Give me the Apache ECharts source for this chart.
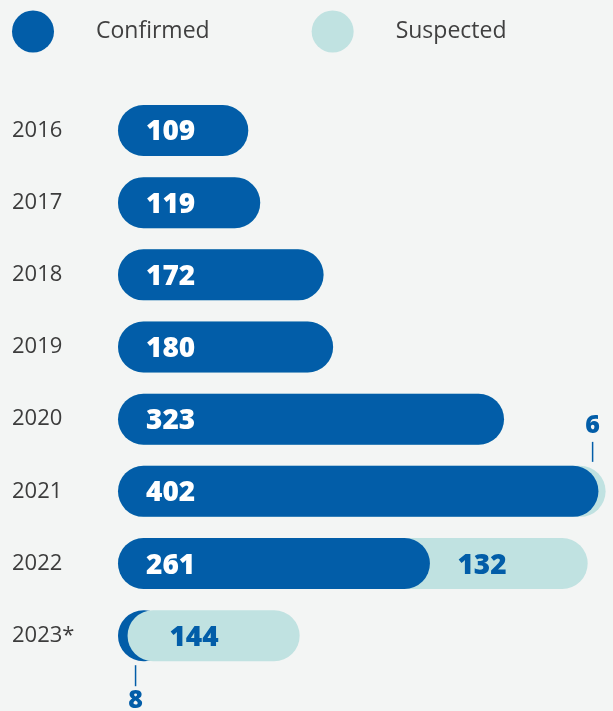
<!DOCTYPE html>
<html>
<head>
<meta charset="utf-8">
<script src="https://cdn.jsdelivr.net/npm/echarts@6/dist/echarts.min.js"></script>
<style>
html,body{margin:0;padding:0;background:#f3f5f4;}
#c{width:613px;height:711px;}
</style>
</head>
<body>
<div id="c"></div>
<script>
var years = ['2016', '2017', '2018', '2019', '2020', '2021', '2022', '2023*'];
var confirmed = [109, 119, 172, 180, 323, 402, 261, 8];
var suspected = [0, 0, 0, 0, 0, 6, 132, 144];
// years where the suspected pill is drawn on top of the confirmed one
var suspectedOnTop = ['2023*'];

var DARK = '#025da8', LIGHT = '#c0e2e1', TXT = '#3c3c3c';
var SMALL = 20; // values below this get a callout instead of an inside label
var R = 25.5;

var backTeal = [], darkData = [], baseData = [], frontTeal = [], callouts = [];
years.forEach(function (y, i) {
  var total = confirmed[i] + suspected[i];
  var onTop = suspectedOnTop.indexOf(y) >= 0;
  var sLabel = {
    show: suspected[i] >= SMALL,
    position: 'insideRight', distance: 81, offset: [0, 2],
    formatter: String(suspected[i]),
    color: DARK, fontFamily: 'Open Sans', fontWeight: 800, fontSize: 28
  };
  if (onTop) {
    backTeal.push('-');
    baseData.push(confirmed[i]);
    frontTeal.push({ value: suspected[i], label: sLabel });
  } else {
    backTeal.push({ value: total, label: sLabel });
    baseData.push('-');
    frontTeal.push('-');
  }
  darkData.push({ value: confirmed[i], label: { show: confirmed[i] >= SMALL } });
  if (suspected[i] > 0 && suspected[i] < SMALL) {
    callouts.push([total, i, String(suspected[i]), 'top']);
  }
  if (confirmed[i] < SMALL) {
    callouts.push([confirmed[i], i, String(confirmed[i]), 'bottom']);
  }
});

var chart = echarts.init(document.getElementById('c'));
chart.setOption({
  backgroundColor: '#f3f5f4',
  animation: false,
  legend: {
    data: ['Confirmed', 'Suspected'],
    left: 12, top: 10.5, padding: 0,
    icon: 'circle', itemWidth: 42, itemHeight: 42, itemGap: 102,
    textStyle: { fontFamily: 'Open Sans', fontSize: 23, color: '#404040', padding: [2, 0, 0, 37] }
  },
  grid: { left: 118, right: 5, top: 94.4, bottom: 39.2, containLabel: false },
  xAxis: { type: 'value', min: 0, max: 410, show: false },
  yAxis: {
    type: 'category', data: years, inverse: true,
    axisLine: { show: false }, axisTick: { show: false }, splitLine: { show: false },
    axisLabel: { align: 'left', margin: 106, fontFamily: 'Open Sans', fontSize: 22, color: TXT, padding: [2, 0, 0, 0] }
  },
  series: [
    {
      name: 'Suspected', type: 'bar', data: backTeal, barWidth: 51, barGap: '-100%', z: 2,
      itemStyle: { color: LIGHT, borderRadius: R }, clip: false
    },
    {
      name: 'Confirmed', type: 'bar', data: darkData, barWidth: 51, barGap: '-100%', z: 3,
      barMinHeight: 52,
      itemStyle: { color: DARK, borderRadius: R }, clip: false,
      label: { position: 'insideLeft', distance: 28, offset: [0, 2], color: '#fff', fontFamily: 'Open Sans', fontWeight: 800, fontSize: 28 }
    },
    {
      name: 'base', type: 'bar', stack: 'front', data: baseData, barWidth: 51, barGap: '-100%', z: 4,
      itemStyle: { color: 'rgba(0,0,0,0)' }, silent: true
    },
    {
      name: 'Suspected', type: 'bar', stack: 'front', data: frontTeal, barWidth: 51, barGap: '-100%', z: 5,
      itemStyle: { color: LIGHT, borderRadius: R }, clip: false
    },
    {
      type: 'custom', z: 6, silent: true,
      data: callouts,
      encode: { x: 0, y: 1 },
      renderItem: function (params, api) {
        var p = api.coord([api.value(0), api.value(1)]);
        var side = callouts[params.dataIndex][3];
        var txt = callouts[params.dataIndex][2];
        var x, y0, y1, ty;
        if (side === 'top') {
          x = p[0] - 13;
          var top = p[1] - R;
          y0 = top - 4; y1 = top - 24; ty = top - 40;
        } else {
          x = p[0] + 8;
          var bot = p[1] + R;
          y0 = bot + 4; y1 = bot + 25; ty = bot + 40;
        }
        return {
          type: 'group',
          children: [
            { type: 'line', shape: { x1: x, y1: y0, x2: x, y2: y1 }, style: { stroke: DARK, lineWidth: 1.5 } },
            { type: 'text', style: { x: x, y: ty, text: txt, align: 'center', verticalAlign: 'middle',
              fill: DARK, font: '800 25px "Open Sans"' } }
          ]
        };
      }
    }
  ]
});
</script>
</body>
</html>
